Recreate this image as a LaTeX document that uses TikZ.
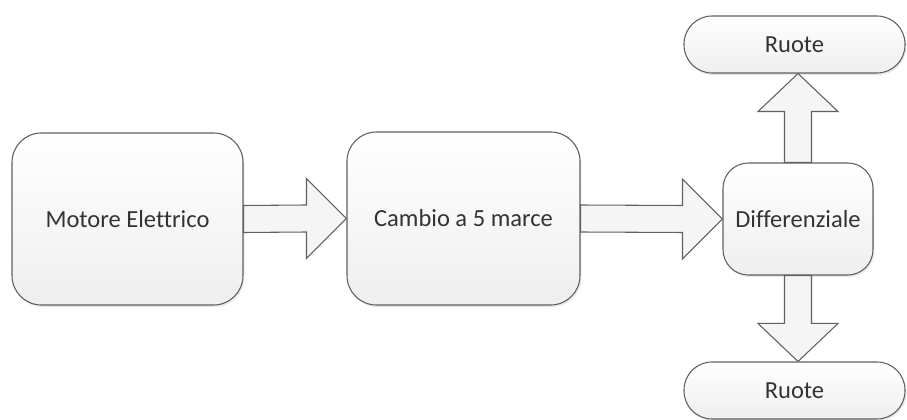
\documentclass[tikz,border=0pt]{standalone}
\usepackage{fontspec}
\setmainfont{Carlito}[Ligatures={NoCommon}]
\usetikzlibrary{calc,shadows}

\definecolor{edgegray}{RGB}{96,96,96}
\definecolor{textgray}{RGB}{51,51,51}

% horizontal block arrow from the east side of #1 to the west side of #2
\newcommand{\harrow}[2]{%
  \draw[fatarrow] ($(#1.east)+(0,-13.5)$) -- ($(#2.west)+(-40,-13.5)$) -- ($(#2.west)+(-40,-40)$)
    -- (#2.west) -- ($(#2.west)+(-40,40)$) -- ($(#2.west)+(-40,13.5)$) -- ($(#1.east)+(0,13.5)$) -- cycle;}
% vertical block arrow from side #2 of #1 towards node #3 (#4 = +1 down, -1 up)
\newcommand{\varrow}[4]{%
  \draw[fatarrow] ($(#1.#2)+(-13.5,0)$) -- ($(#1.#2 |- #3)+(-13.5,-38*#4)$) -- ($(#1.#2 |- #3)+(-40,-38*#4)$)
    -- (#1.#2 |- #3) -- ($(#1.#2 |- #3)+(40,-38*#4)$) -- ($(#1.#2 |- #3)+(13.5,-38*#4)$) -- ($(#1.#2)+(13.5,0)$) -- cycle;}

\begin{document}
\begin{tikzpicture}[x=0.75pt, y=-0.75pt, line width=0.8pt]
\tikzstyle{block}=[rectangle, draw=edgegray, rounded corners=22pt, top color=white, bottom color=gray!13,
  drop shadow={opacity=0.18, shadow xshift=1pt, shadow yshift=-1.5pt},
  text=textgray, font=\fontsize{18.4}{22}\selectfont, inner sep=2pt]
\tikzstyle{pill}=[block, rounded corners=21pt, minimum width=165.75pt, minimum height=42.75pt]
\tikzstyle{fatarrow}=[draw=edgegray, fill=gray!8, line join=miter]

\useasboundingbox (0,0) rectangle (907,420);

\node[block, minimum width=173.25pt, minimum height=129pt] (B0) at (127.5,219) {Motore Elettrico};
\node[block, minimum width=174.75pt, minimum height=129.75pt] (B1) at (463.5,218.5) {Cambio a 5 marce};
\node[block, rounded corners=19pt, minimum width=112.5pt, minimum height=84pt] (B2) at (798,219) {Differenziale};
\node[pill] (R0) at (794.5,44.5) {Ruote};
\node[pill] (R1) at (794.5,390.5) {Ruote};

\harrow{B0}{B1}
\harrow{B1}{B2}
\varrow{B2}{north}{R0.south}{-1}
\varrow{B2}{south}{R1.north}{1}
\end{tikzpicture}
\end{document}
